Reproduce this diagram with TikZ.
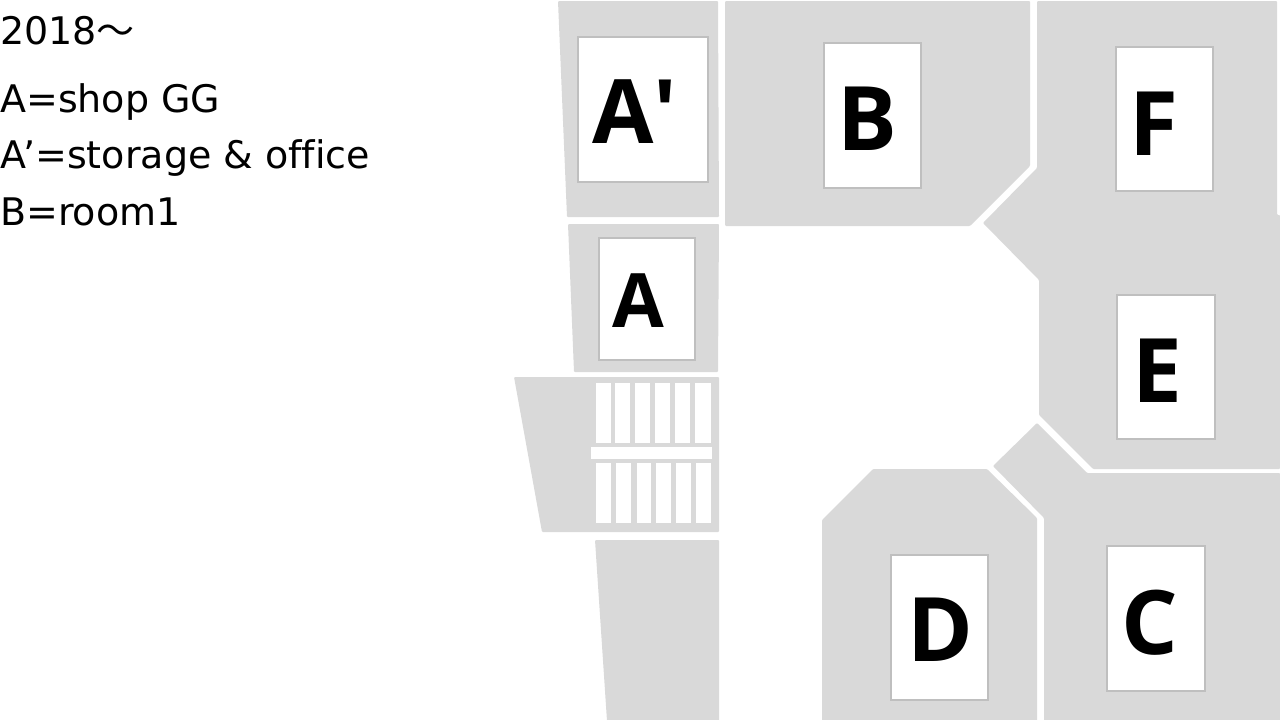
\documentclass[tikz,border=0pt]{standalone}
\usepackage{fontspec}
\setmainfont[Ligatures=NoCommon]{DejaVu Sans}
\newfontfamily\letterfont{Open Sans}
\newfontfamily\cjkfont{Noto Sans CJK JP}
\usetikzlibrary{positioning}

\tikzset{
  room/.style={fill=roomgray, rounded corners=1pt},
  roombox/.style={draw=boxline, line width=1.1pt, fill=white, inner sep=0pt},
  roomletter/.style={anchor=base, inner sep=0pt, text=black, font=\letterfont\bfseries\fontsize{89}{89}\selectfont},
  notetext/.style={anchor=base west, inner sep=0pt, text=black, font=\fontsize{38}{38}\selectfont},
  slot/.style={fill=white}
}
\definecolor{roomgray}{HTML}{D9D9D9}
\definecolor{boxline}{HTML}{BFBFBF}

\begin{document}
\begin{tikzpicture}[x=1pt, y=-1pt]
\useasboundingbox (0,0) rectangle (1280,720);

% rooms
\fill[room] (558,1) -- (718,1) -- (719,217) -- (567,217) -- cycle;
\fill[room] (568,224) -- (719,224) -- (718,372) -- (574,372) -- cycle;
\fill[room] (514,377) -- (719,377) -- (719,532) -- (542,532) -- cycle;
\fill[room] (595,540) -- (719,540) -- (719,721) -- (607,721) -- cycle;
\fill[room] (725,1) -- (1030,1) -- (1030,166) -- (970,226) -- (725,226) -- cycle;
\fill[room] (1037,1) -- (1277,1) -- (1277,215) -- (1280,215) -- (1280,469) -- (1093,469)
  -- (1039,415) -- (1039,280) -- (983,223) -- (1037,168) -- cycle;
\fill[room] (1037,423) -- (1087,473) -- (1280,473) -- (1280,721) -- (1044,721) -- (1044,518)
  -- (993,466) -- cycle;
\fill[room] (873,469) -- (987,469) -- (1037,518) -- (1037,721) -- (822,721) -- (822,520) -- cycle;

% parking slots
\foreach \xa/\xb in {596/610.5,615/630,635/650,654.5/670,675/690,695/710.5}
  \fill[slot] (\xa,382.5) rectangle (\xb,443);
\foreach \xa/\xb in {596/611,616/631,636.5/651,656/671,676/691,696/711}
  \fill[slot] (\xa,463) rectangle (\xb,523);
\fill[slot] (591,447) rectangle (712,459);

% boxes
\node[roombox, minimum width=130pt, minimum height=145pt] (boxAp) at (643,109.5) {};
\node[roombox, minimum width=96pt, minimum height=122pt] (boxA) at (647,299) {};
\node[roombox, minimum width=97pt, minimum height=145pt] (boxB) at (872.5,115.5) {};
\node[roombox, minimum width=97pt, minimum height=144pt] (boxF) at (1164.5,119) {};
\node[roombox, minimum width=98pt, minimum height=144pt] (boxE) at (1166,367) {};
\node[roombox, minimum width=98pt, minimum height=145pt] (boxC) at (1156,618.5) {};
\node[roombox, minimum width=97pt, minimum height=145pt] (boxD) at (939.5,627.5) {};

% letters
\node[roomletter] (letAp) at (635,143) {A\kern0pt'};
\node[roomletter, font=\letterfont\bfseries\fontsize{75}{75}\selectfont] (letA) at (638,327) {A};
\node[roomletter] (letB) at (867,150) {B};
\node[roomletter] (letF) at (1154,155) {F};
\node[roomletter] (letE) at (1157,402) {E};
\node[roomletter] (letC) at (1150,654) {C};
\node[roomletter] (letD) at (940,661) {D};

% notes
\node[notetext] (year) at (0,44) {2018{\cjkfont ～}};
\node[notetext] (noteA) at (0,112) {A=shop GG};
\node[notetext] (noteAp) at (0,168) {A\kern-3pt’=storage \& office};
\node[notetext] (noteB) at (0,225) {B=room1};
\end{tikzpicture}
\end{document}
